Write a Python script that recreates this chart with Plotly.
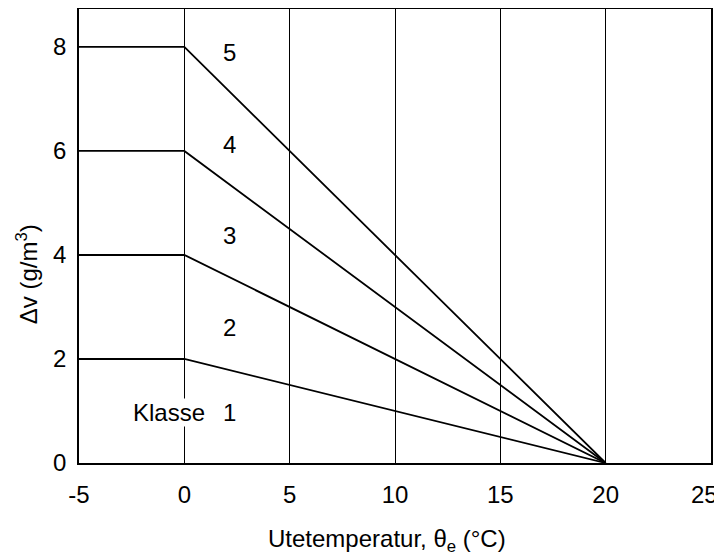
import plotly.graph_objects as go

# Data
klasse_levels = [2, 4, 6, 8]          # Δv at and below 0 °C for the boundaries
x_points = [-5, 0, 20]                # outdoor temperature break points
class_numbers = ["1", "2", "3", "4", "5"]
label_x = [2.15, 2.15, 2.15, 2.15, 2.15]
label_y = [0.97, 2.6, 4.37, 6.12, 7.9]
x_ticks = [-5, 0, 5, 10, 15, 20, 25]
x_ticktext = ["-5", "0", "5", "10", "15", "20", ""]
y_ticks = [0, 2, 4, 6, 8]

FONT = "Liberation Sans, Arial, sans-serif"
FS = 24
f = dict(size=FS, color="black", family=FONT)

fig = go.Figure()
for v in klasse_levels:
    fig.add_trace(go.Scatter(
        x=x_points, y=[v, v, 0], mode="lines",
        line=dict(color="black", width=1.8), showlegend=False, hoverinfo="skip"))

for t, xx, yy in zip(class_numbers, label_x, label_y):
    fig.add_annotation(x=xx, y=yy, text=t, showarrow=False, font=f)
fig.add_annotation(x=-0.75, y=label_y[0], text="Klasse", showarrow=False,
                   bgcolor="white", borderpad=0, font=f)

# last x tick label placed slightly inside the page
fig.add_annotation(x=25, y=0, yref="y", text="25", showarrow=False, font=f,
                   yanchor="top", yshift=-16, xshift=-7)

# axis titles
fig.add_annotation(xref="paper", yref="paper", x=-0.082, y=0.416,
                   xanchor="center", yanchor="middle",
                   text="Δv (g/m<sup>3</sup>)", textangle=-90, showarrow=False,
                   font=f)
fig.add_annotation(xref="paper", yref="paper", x=0.487, y=-0.17,
                   xanchor="center", yanchor="middle",
                   text="Utetemperatur, θ<sub>e</sub> (°C)", showarrow=False,
                   font=f)

fig.update_xaxes(
    range=[-5, 25], tickvals=x_ticks, ticktext=x_ticktext, ticks="",
    showgrid=True, gridcolor="black", gridwidth=1,
    showline=True, linecolor="black", linewidth=1.5, mirror=True,
    zeroline=False, automargin=False, ticklabelstandoff=9,
    tickfont=f,
)
fig.update_yaxes(
    range=[0, 8.73], tickvals=y_ticks, ticks="",
    showgrid=False,
    showline=True, linecolor="black", linewidth=1.5, mirror=True,
    zeroline=False, automargin=False, ticklabelstandoff=6,
    tickfont=f,
)
# the page body adds an 8px offset, so the figure is 8px smaller
fig.update_layout(
    width=714, height=550,
    margin=dict(l=71, r=11, t=1, b=95),
    plot_bgcolor="white", paper_bgcolor="white",
)
fig.write_html("out.html")
